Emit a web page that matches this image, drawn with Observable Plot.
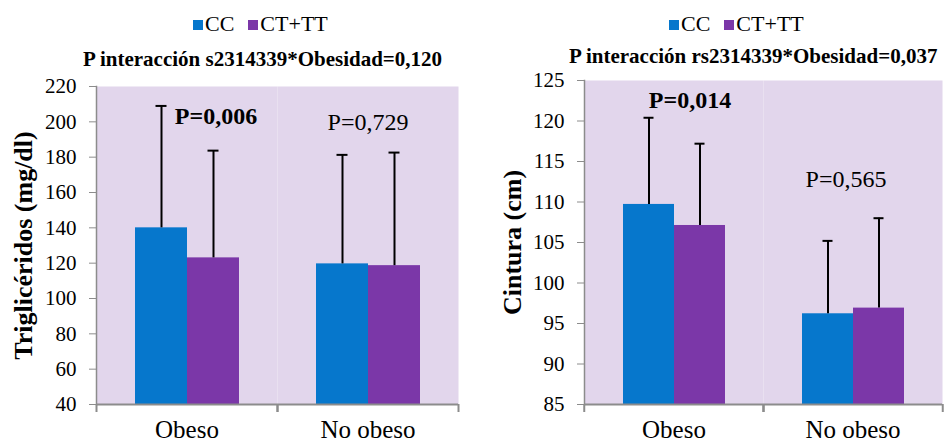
<!DOCTYPE html>
<html>
<head>
<meta charset="utf-8">
<script src="https://cdn.jsdelivr.net/npm/d3@7"></script>
<script src="https://cdn.jsdelivr.net/npm/@observablehq/plot@0.6"></script>
<style>
  html, body { margin: 0; padding: 0; background: #fff; }
  #root { position: relative; width: 944px; height: 445px; overflow: hidden; font-family: "Liberation Serif", "Times New Roman", serif; }
  .legend { position: absolute; font-size: 22px; line-height: 22px; white-space: nowrap; color: #000; }
  .legend .item { display: inline-block; margin-right: 14px; }
  .legend .sw { display: inline-block; width: 10px; height: 10px; margin-right: 2px; vertical-align: 1px; }
  .title { position: absolute; font-size: 21px; line-height: 21px; font-weight: bold; white-space: nowrap; color: #000; }
  .chart { position: absolute; top: 70px; }
</style>
</head>
<body>
<div id="root"></div>
<script>
// ---- data ----
const categories = ["Obeso", "No obeso"];
const groups = ["CC", "CT+TT"];
const groupColors = ["#0677CC", "#7B37A8"];

// Triglicéridos (mg/dl): means and SD per category, for each genotype group
const trigCC = [140, 119.6];
const trigCTTT = [123, 118.6];
const trigSdCC = [69, 61.7];
const trigSdCTTT = [60.7, 64];
const trigTicks = [40, 60, 80, 100, 120, 140, 160, 180, 200, 220];
const trigTitle = "P interacción s2314339*Obesidad=0,120";
const trigLabel = "Triglicéridos (mg/dl)";
const trigP = ["P=0,006", "P=0,729"];
const trigPBold = [true, false];

// Cintura (cm)
const cinCC = [109.7, 96.2];
const cinCTTT = [107.1, 96.9];
const cinSdCC = [10.7, 9.0];
const cinSdCTTT = [10.1, 11.1];
const cinTicks = [85, 90, 95, 100, 105, 110, 115, 120, 125];
const cinTitle = "P interacción rs2314339*Obesidad=0,037";
const cinLabel = "Cintura (cm)";
const cinP = ["P=0,014", "P=0,565"];
const cinPBold = [true, false];

function rows(cc, ct, sdcc, sdct) {
  const out = [];
  categories.forEach((c, i) => {
    out.push({cat: c, group: groups[0], mean: cc[i], sd: sdcc[i]});
    out.push({cat: c, group: groups[1], mean: ct[i], sd: sdct[i]});
  });
  return out;
}

const root = document.getElementById("root");
const gray = "#8c8c8c";
const bg = "#E2D6EC";

function legend(left) {
  const d = document.createElement("div");
  d.className = "legend";
  d.style.left = left + "px";
  d.style.top = "13px";
  groups.forEach((g, i) => {
    const it = document.createElement("span");
    it.className = "item";
    const sw = document.createElement("span");
    sw.className = "sw";
    sw.style.background = groupColors[i];
    it.appendChild(sw);
    it.appendChild(document.createTextNode(g));
    d.appendChild(it);
  });
  root.appendChild(d);
}

function title(text, left, top) {
  const d = document.createElement("div");
  d.className = "title";
  d.style.left = left + "px";
  d.style.top = top + "px";
  d.textContent = text;
  root.appendChild(d);
}

function chart(cfg) {
  const data = rows(cfg.cc, cfg.ct, cfg.sdcc, cfg.sdct);
  const ymin = cfg.ticks[0], ymax = cfg.ticks[cfg.ticks.length - 1];
  const W = 472, H = 375;
  const facetW = (W - cfg.ml - cfg.mr) / categories.length;
  const ann = cfg.p.map((t, i) => ({cat: categories[i], label: t}));
  const marks = [
    Plot.frame({fill: bg, stroke: "none"}),
    Plot.barY(data, {fx: "cat", x: "group", y1: () => ymin, y2: "mean", fill: "group"}),
    Plot.ruleX(data, {fx: "cat", x: "group", y1: "mean", y2: d => d.mean + d.sd, stroke: "#000", strokeWidth: 2}),
    Plot.tickY(data, {fx: "cat", x: "group", y: d => d.mean + d.sd, stroke: "#000", strokeWidth: 2, insetLeft: cfg.capInset, insetRight: cfg.capInset}),
    Plot.ruleY([ymin], {stroke: gray, strokeWidth: 2}),
    Plot.frame({anchor: "left", facetAnchor: "left", stroke: gray, strokeWidth: 1.5}),
    // boundary ticks of the category axis (at the facet edges)
    Plot.axisFx({anchor: "bottom", tickSize: 8, tickFormat: () => "", stroke: gray, strokeWidth: 2, dx: -facetW / 2, label: null}),
    Plot.axisFx({anchor: "bottom", tickSize: 8, tickFormat: () => "", stroke: gray, strokeWidth: 2, dx: facetW / 2, label: null}),
    Plot.axisY({ticks: cfg.ticks, tickSize: 7, tickPadding: 13, stroke: gray, fill: "#000", fontSize: 21, label: null}),
    Plot.axisY({ticks: [], tickSize: 0, label: cfg.label, labelArrow: "none", labelAnchor: "center",
      labelOffset: cfg.labelOffset, fontSize: 26, fontWeight: "bold", fill: "#000"}),
    Plot.axisFx({anchor: "bottom", tickSize: 0, tickPadding: 16, fontSize: 25, fill: "#000", label: null})
  ];
  ann.forEach((a, i) => {
    marks.push(Plot.text([a], {fx: "cat", text: "label", frameAnchor: "top", lineAnchor: "middle",
      dx: cfg.annDx[i], dy: cfg.annDy[i], fontSize: 24, fontWeight: cfg.bold[i] ? "bold" : "normal", fill: "#000"}));
  });
  const svg = Plot.plot({
    width: W, height: H,
    marginLeft: cfg.ml, marginRight: cfg.mr, marginTop: cfg.mt, marginBottom: cfg.mb,
    style: {fontFamily: "'Liberation Serif', 'Times New Roman', serif", background: "transparent", overflow: "visible"},
    fx: {domain: categories, padding: 0, label: null},
    x: {domain: groups, paddingInner: 0, paddingOuter: 0.74, axis: null},
    y: {domain: [ymin, ymax], label: null},
    color: {domain: groups, range: groupColors},
    marks
  });
  const wrap = document.createElement("div");
  wrap.className = "chart";
  wrap.style.left = cfg.left + "px";
  wrap.appendChild(svg);
  root.appendChild(wrap);
}

legend(193);
legend(669);
title(trigTitle, 83, 49);
title(cinTitle, 569, 46);

chart({left: 0, cc: trigCC, ct: trigCTTT, sdcc: trigSdCC, sdct: trigSdCTTT, ticks: trigTicks,
  label: trigLabel, p: trigP, bold: trigPBold, ml: 96, mr: 14, mt: 16, mb: 41, labelOffset: 83,
  capInset: 20.5, annDx: [29, 0], annDy: [30, 36]});
chart({left: 472, cc: cinCC, ct: cinCTTT, sdcc: cinSdCC, sdct: cinSdCTTT, ticks: cinTicks,
  label: cinLabel, p: cinP, bold: cinPBold, ml: 111, mr: 2, mt: 10, mb: 41, labelOffset: 82,
  capInset: 20.5, annDx: [16, -7], annDy: [20, 99]});
</script>
</body>
</html>
